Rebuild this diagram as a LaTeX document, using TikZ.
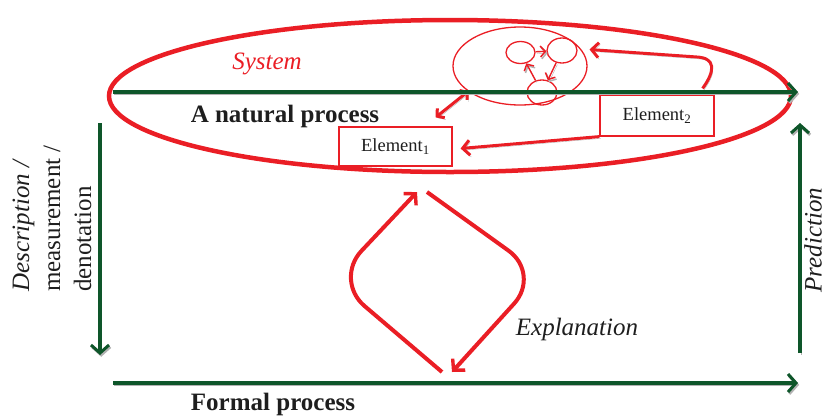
\documentclass[tikz,border=0pt]{standalone}
\usepackage{fontspec}
\setmainfont{Liberation Serif}
\usetikzlibrary{arrows.meta,shapes.geometric}
\definecolor{sysred}{RGB}{234,30,37}
\definecolor{procgreen}{RGB}{14,86,42}
\definecolor{ink}{RGB}{30,30,30}
\tikzset{
  shadowed/.style={preaction={draw=black!30, transform canvas={shift={(1.2pt,-1.8pt)}}}},
  flow/.style={draw=procgreen, line width=3.5pt, shadowed,
    -{Straight Barb[length=8pt,width=18pt,line width=3pt]}},
  link/.style={draw=sysred, line width=3pt, shadowed,
    -{Straight Barb[length=7pt,width=15pt,line width=3pt]}},
  cycarrow/.style={draw=sysred, line width=4pt, rounded corners=40pt,
    -{Straight Barb[length=8pt,width=17pt,line width=3.4pt]}},
  tiny/.style={draw=sysred, line width=1.4pt, shadowed,
    -{Straight Barb[length=5pt,width=11pt,line width=1.5pt]}},
  cell/.style={ellipse, draw=sysred, line width=1.3pt, inner sep=0pt},
  elem/.style={draw=sysred, line width=1.2pt, fill=white, inner sep=0pt,
    minimum width=113pt, minimum height=39pt, text=ink,
    font=\fontsize{18.5}{20}\selectfont},
  label/.style={text=ink, inner sep=0pt, font=\fontsize{25}{31}\selectfont},
}
\begin{document}
\begin{tikzpicture}[x=1pt,y=-1pt]
\useasboundingbox (0,0) rectangle (828,416);

% the system boundary
\node[ellipse, draw=sysred, line width=4.5pt, inner sep=0pt,
  minimum width=682pt, minimum height=152pt] (system) at (450,96) {};
\node[label, text=sysred, font=\fontsize{25}{31}\selectfont\itshape] (systxt) at (267,64) {System};

% inner interacting parts
\node[cell, minimum width=134pt, minimum height=78pt] (inner) at (520,66) {};
\node[cell, minimum width=29pt, minimum height=22pt] (cA) at (520.5,52.5) {};
\node[cell, minimum width=30pt, minimum height=25pt] (cB) at (562,50.5) {};
\node[cell, minimum width=30pt, minimum height=25pt] (cC) at (542,92.5) {};
\draw[tiny] (cA) -- (cB);
\draw[tiny] (cB) -- (cC);
\draw[tiny] (cC) -- (cA);

% elements
\node[elem] (e1) at (395.5,146.5) {Element\textsubscript{1}};
\node[elem, minimum width=114pt, minimum height=41pt] (e2) at (657,115.5) {Element\textsubscript{2}};

\draw[link] ([xshift=-12pt,yshift=6pt]e2.north east)
  .. controls (716,70) and (715,58) .. (697,57) -- ([xshift=8pt]inner.15);
\draw[link] (e2.south west) -- ([xshift=8pt,yshift=-2pt]e1.east);
\draw[draw=sysred, line width=3pt, shadowed,
  {Straight Barb[length=5pt,width=12pt,line width=3pt]}-{Straight Barb[length=5pt,width=12pt,line width=3pt]}]
  ([xshift=-17pt,yshift=9pt]e1.north east) -- ([shift={(-5pt,4pt)}]inner.212);

% processes
\coordinate (natS) at (113,92);
\coordinate (natE) at (798,92);
\coordinate (forS) at (113,383);
\coordinate (forE) at (798,383);
\coordinate (desS) at (100,123);
\coordinate (desE) at (100,355);
\coordinate (preS) at (800,353);
\coordinate (preE) at (800,123);
\draw[flow] (natS) -- (natE);
\draw[flow] (forS) -- (forE);
\draw[flow] (desS) -- (desE);
\draw[flow] (preS) -- (preE);

\node[label, anchor=base, font=\fontsize{25}{31}\selectfont\bfseries] (nattxt) at (285,122) {A natural process};
\node[label, anchor=base, font=\fontsize{25}{31}\selectfont\bfseries] (fortxt) at (273,410) {Formal process};
\node[label, rotate=90, anchor=west, align=left] (destxt) at (52,292)
  {\textit{Description /}\\measurement /\\denotation};
\node[label, rotate=90, font=\fontsize{25}{31}\selectfont\itshape] (pretxt) at (813,240) {Prediction};

% explanation cycle
\coordinate (cycB1) at (442,372);
\coordinate (cycL) at (334,280);
\coordinate (cycT1) at (417,192);
\coordinate (cycT2) at (427,192);
\coordinate (cycR) at (541,274);
\coordinate (cycB2) at (452,372);
\draw[cycarrow] (cycB1) -- (cycL) -- (cycT1);
\draw[cycarrow] (cycT2) -- (cycR) -- (cycB2);
\node[label, anchor=base, font=\fontsize{25}{31}\selectfont\itshape] (exptxt) at (577,335) {Explanation};
\end{tikzpicture}
\end{document}
